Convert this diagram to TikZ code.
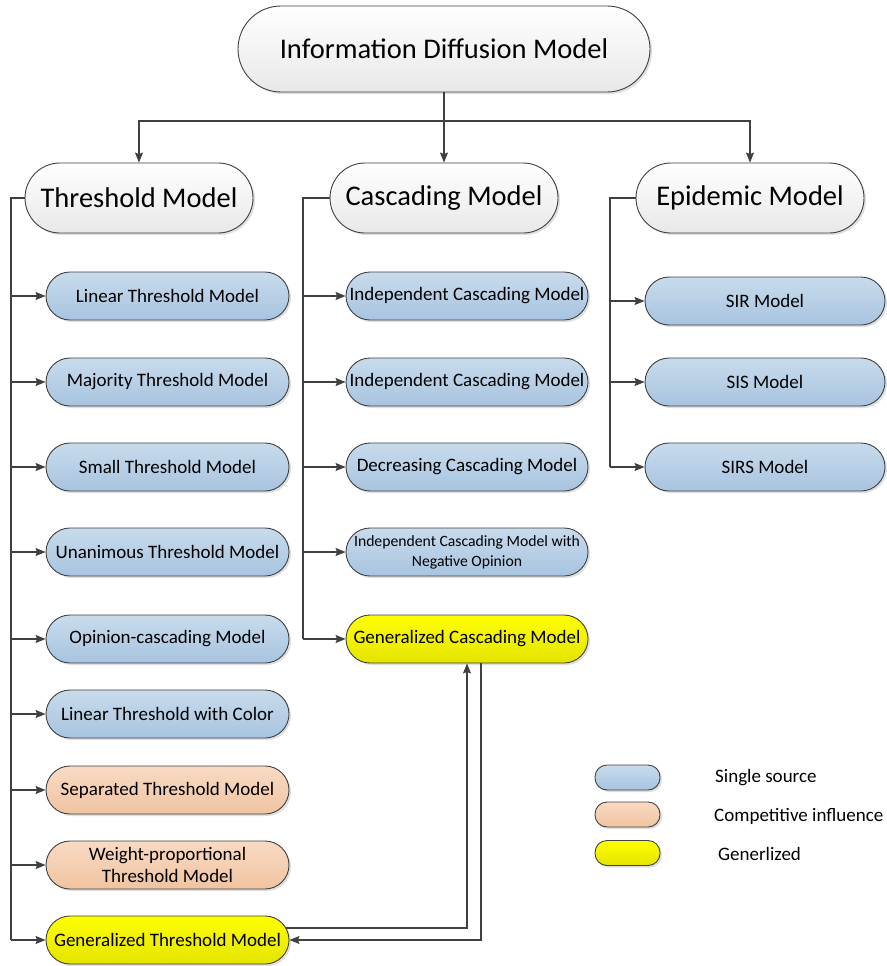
\documentclass[tikz,border=0pt]{standalone}
\usepackage{fontspec}
\setmainfont{Carlito}
\usetikzlibrary{shadows,arrows.meta,calc}
\definecolor{ln}{HTML}{404040}
\tikzset{
 boxbase/.style={draw=ln, line width=0.9pt, inner sep=0pt, align=center, text=black,
   drop shadow={opacity=0.25, shadow xshift=2pt, shadow yshift=-2pt}},
 topbox/.style={boxbase, rounded corners=35pt, minimum width=228pt, minimum height=70pt,
   top color=white, bottom color=gray!18, font=\fontsize{28.5}{32}\selectfont},
 subbox/.style={boxbase, rounded corners=24pt, minimum width=243pt, minimum height=48pt,
   font=\fontsize{19}{22}\selectfont},
 blue/.style={top color={rgb,255:red,200;green,219;blue,236}, bottom color={rgb,255:red,168;green,196;blue,224}},
 orange/.style={top color={rgb,255:red,249;green,218;blue,196}, bottom color={rgb,255:red,240;green,196;blue,160}},
 yel/.style={top color={rgb,255:red,255;green,255;blue,0}, bottom color={rgb,255:red,228;green,228;blue,0}},
 legbox/.style={boxbase, rounded corners=12pt, minimum width=65pt, minimum height=25pt},
 legtext/.style={anchor=west, inner sep=0pt, font=\fontsize{19}{22}\selectfont},
 conn/.style={draw=ln, line width=1.3pt},
 arr/.style={conn, -{Stealth[length=10pt,width=8pt,inset=1.5pt]}}
}
\begin{document}
\begin{tikzpicture}[x=1pt,y=-1pt]
\useasboundingbox (0,0) rectangle (886,966);
% top
\node[topbox, minimum width=412pt, minimum height=86pt, rounded corners=43pt] (top) at (444,49) {Information Diffusion Model};
\node[topbox] (tm) at (139,198) {Threshold Model};
\node[topbox] (cm) at (444,198) {Cascading Model};
\node[topbox] (em) at (750,198) {Epidemic Model};
\coordinate (j) at (444,121);
\draw[conn] (top.south) -- (j);
\draw[arr] (j) -| (tm.north);
\draw[arr] (j) -- (cm.north);
\draw[arr] (j) -| (em.north);
% threshold column
\node[subbox, blue] (t1) at (167.5,296) {Linear Threshold Model};
\node[subbox, blue] (t2) at (167.5,382) {Majority Threshold Model};
\node[subbox, blue] (t3) at (167.5,467) {Small Threshold Model};
\node[subbox, blue] (t4) at (167.5,552) {Unanimous Threshold Model};
\node[subbox, blue] (t5) at (167.5,639) {Opinion-cascading Model};
\node[subbox, blue] (t6) at (167.5,714) {Linear Threshold with Color};
\node[subbox, orange] (t7) at (167.5,790) {Separated Threshold Model};
\node[subbox, orange, font=\fontsize{19}{22.7}\selectfont] (t8) at (167.5,865) {Weight-proportional\\Threshold Model};
\node[subbox, yel] (gt) at (167.5,940) {Generalized Threshold Model};
\coordinate (tl) at (11,198);
\draw[conn] (tm.west) -- (tl) -- (tl |- gt.west);
\foreach \b in {t1,t2,t3,t4,t5,t6,t7,t8,gt} \draw[arr] (tl |- \b.west) -- (\b.west);
% cascading column
\node[subbox, blue, minimum width=242pt] (c1) at (467,296) {Independent Cascading Model};
\node[subbox, blue, minimum width=242pt] (c2) at (467,382) {Independent Cascading Model};
\node[subbox, blue, minimum width=242pt] (c3) at (467,467) {Decreasing Cascading Model};
\node[subbox, blue, minimum width=242pt, font=\fontsize{15.7}{20}\selectfont] (c4) at (467,552) {Independent Cascading Model with\\Negative Opinion};
\node[subbox, yel, minimum width=242pt] (gc) at (467,639) {Generalized Cascading Model};
\coordinate (cl) at (303,198);
\draw[conn] (cm.west) -- (cl) -- (cl |- gc.west);
\foreach \b in {c1,c2,c3,c4,gc} \draw[arr] (cl |- \b.west) -- (\b.west);
% epidemic column
\node[subbox, blue, minimum width=240pt] (e1) at (765,301) {SIR Model};
\node[subbox, blue, minimum width=240pt] (e2) at (765,382) {SIS Model};
\node[subbox, blue, minimum width=240pt] (e3) at (765,467) {SIRS Model};
\coordinate (el) at (610,198);
\draw[conn] (em.west) -- (el) -- (el |- e3.west);
\foreach \b in {e1,e2,e3} \draw[arr] (el |- \b.west) -- (\b.west);
% generalized links
\coordinate (g1) at (467,928);
\coordinate (g2) at (481,940);
\draw[arr] ([xshift=-3pt]gt.east |- g1) -- (g1) -- (g1 |- gc.south);
\draw[arr] (g2 |- gc.south) -- (g2) -- (gt.east);
% legend
\node[legbox, blue] (l1) at (627.5,777.5) {};
\node[legbox, orange] (l2) at (627.5,814.5) {};
\node[legbox, yel] (l3) at (627.5,853) {};
\node[legtext] (lt1) at (715,778) {Single source};
\node[legtext] (lt2) at (714,816) {Competitive influence};
\node[legtext] (lt3) at (718,854) {Generlized};
\end{tikzpicture}
\end{document}
